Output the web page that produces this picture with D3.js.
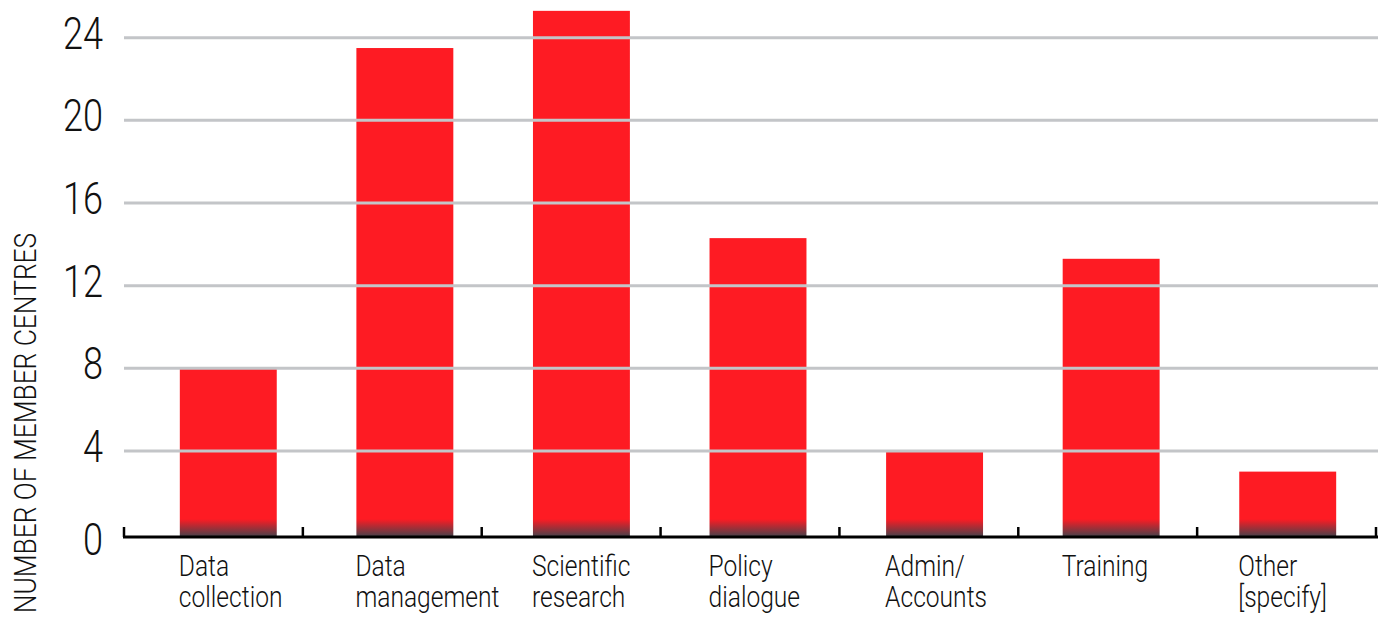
<!DOCTYPE html>
<html>
<head>
<meta charset="utf-8">
<script src="https://cdn.jsdelivr.net/npm/d3@7"></script>
<style>
  html, body { margin: 0; padding: 0; background: #fff; }
  svg { display: block; }
  text { font-family: "Roboto", "Liberation Sans", sans-serif; font-weight: 300; fill: #111; }
</style>
</head>
<body>
<svg id="chart" width="1384" height="644"></svg>
<script>
const categories = [["Data", "collection"], ["Data", "management"], ["Scientific", "research"], ["Policy", "dialogue"], ["Admin/", "Accounts"], ["Training"], ["Other", "[specify]"]];
const values = [8, 23.5, 25.3, 14.3, 4, 13.3, 3];
const yTicks = [0, 4, 8, 12, 16, 20, 24];
const yTitle = "NUMBER OF MEMBER CENTRES";

const svg = d3.select("#chart");
const x0 = 124, x1 = 1376, yBase = 537, SX = 0.82;

const idx = d3.range(categories.length);
// axis bands (tick boundaries)
const xb = d3.scaleBand().domain(idx).range([x0, x1]);
// bar placement
const x = d3.scaleBand().domain(idx).range([140, 1376]).paddingInner(0.451).paddingOuter(0.2255);
const y = d3.scaleLinear().domain([0, 24]).range([533.6, 37.7]);

const defs = svg.append("defs");

// bars
const bars = svg.append("g");
values.forEach((v, i) => {
  const top = y(v);
  const g = defs.append("linearGradient").attr("id", "g" + i).attr("gradientUnits", "userSpaceOnUse")
    .attr("x1", 0).attr("x2", 0).attr("y1", yBase - 18).attr("y2", yBase);
  g.append("stop").attr("offset", 0).attr("stop-color", "#fe1b23");
  g.append("stop").attr("offset", 1).attr("stop-color", "#42434c");
  bars.append("rect")
    .attr("x", x(i)).attr("y", top)
    .attr("width", x.bandwidth()).attr("height", yBase - top)
    .attr("fill", "url(#g" + i + ")");
});

// gridlines (on top of bars)
svg.append("g").selectAll("line").data(yTicks.filter(d => d > 0)).join("line")
  .attr("x1", x0).attr("x2", 1378)
  .attr("y1", d => y(d)).attr("y2", d => y(d))
  .attr("stroke", "#c3c5c8").attr("stroke-width", 3);

// y tick labels
svg.append("g").selectAll("text").data(yTicks).join("text")
  .attr("transform", d => `translate(103,${d === 0 ? yBase + 18 : y(d) + 11}) scale(${SX},1)`)
  .attr("text-anchor", "end")
  .style("font-size", "44px")
  .text(d => d);

// x axis line + ticks
const ax = svg.append("g");
ax.append("line").attr("x1", x0 - 1).attr("x2", x1 + 2).attr("y1", yBase).attr("y2", yBase)
  .attr("stroke", "#000").attr("stroke-width", 3);
const bounds = idx.map(i => xb(i)).concat([x1]);
ax.selectAll("line.tk").data(bounds).join("line").attr("class", "tk")
  .attr("x1", d => d).attr("x2", d => d).attr("y1", yBase - 10).attr("y2", yBase)
  .attr("stroke", "#000").attr("stroke-width", 2.5);

// category labels
const lab = svg.append("g");
categories.forEach((lines, i) => {
  lines.forEach((ln, j) => {
    lab.append("text")
      .attr("transform", `translate(${x(i) - 1},${576 + j * 31}) scale(${SX},1)`)
      .style("font-size", "30px")
      .text(ln);
  });
});

// y title
svg.append("text")
  .attr("transform", `translate(36,423) rotate(-90) scale(0.85,1)`)
  .attr("text-anchor", "middle")
  .style("font-size", "31px")
  .text(yTitle);
</script>
</body>
</html>
